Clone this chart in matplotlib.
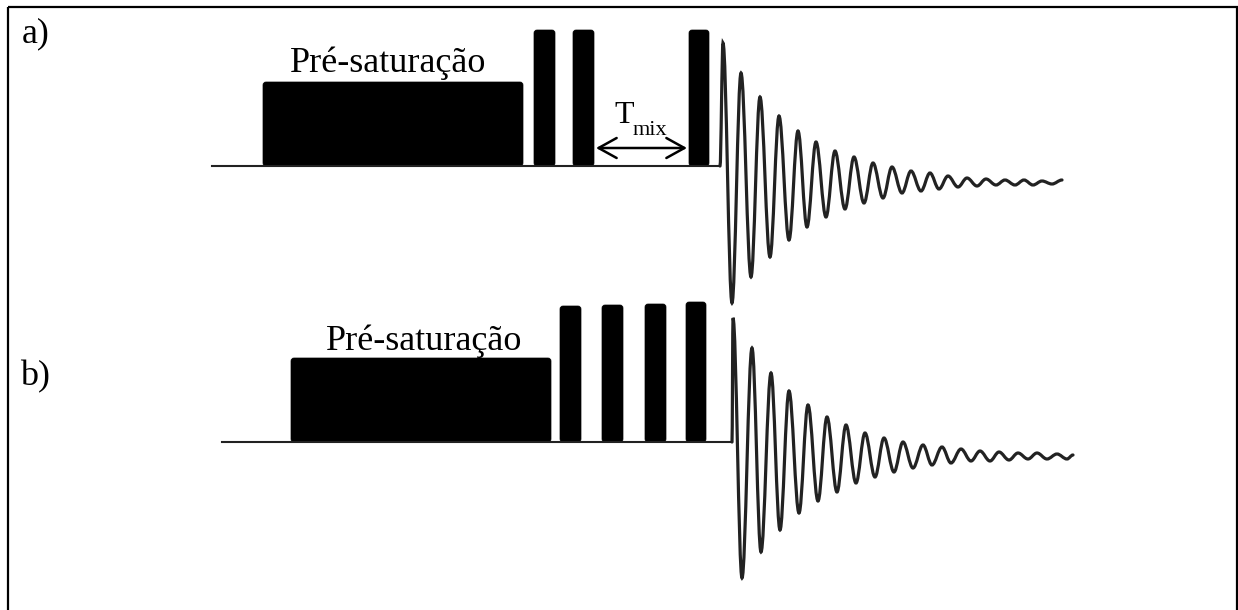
"""
Sequências de pulsos com pré-saturação (a: NOESY 1D, b: 4 pulsos)
"""

import matplotlib
matplotlib.use("Agg")
import matplotlib.pyplot as plt
from matplotlib.path import Path
from matplotlib.patches import FancyBboxPatch, PathPatch, Rectangle

plt.rcParams["font.family"] = ["Liberation Serif", "DejaVu Serif"]

# ---- dados (unidades do diagrama, eixo y para baixo) ----
baseline_a = 166
baseline_b = 442
line_a = (212, 720)
line_b = (222, 732)

# bloco de pré-saturação: início, fim, altura
presat_a = (263, 523, 84)
presat_b = (291, 551, 84)

# pulsos duros
pulse_a_start = [534, 573, 689]
pulse_a_end = [555, 594, 709]
pulse_a_height = [136, 136, 136]

pulse_b_start = [560, 602, 645, 686]
pulse_b_end = [581, 623, 666, 706]
pulse_b_height = [136, 137, 138, 140]

# T_mix
tmix_from = 596
tmix_to = 687
tmix_level = 18  # acima da linha de base

# FID: extremos lidos (amplitude acima da linha de base)
fid_a_peak_x = [723, 741, 760, 779, 798, 816, 835, 854, 873, 892, 911, 930,
                948, 967, 986, 1005, 1024, 1042, 1062]
fid_a_peak = [123, 93, 69, 50, 35, 24, 15, 9, 3, -1, -5, -7, -10, -12, -13,
              -14, -14, -15, -14]
fid_a_trough_x = [732, 751, 770, 789, 807, 826, 845, 864, 883, 902, 921, 939,
                  958, 977, 996, 1015, 1033, 1052]
fid_a_trough = [-137, -111, -91, -74, -61, -51, -43, -37, -32, -27, -25, -23,
                -21, -20, -19, -19, -19, -18]

fid_b_peak_x = [733, 752, 771, 789, 808, 827, 846, 865, 884, 903, 923, 942,
                961, 980, 999, 1018, 1037, 1057, 1073]
fid_b_peak = [124, 94, 69, 51, 37, 25, 17, 9, 4, 0, -3, -5, -7, -9, -10,
              -11, -11, -12, -13]
fid_b_trough_x = [742, 761, 780, 799, 818, 837, 856, 875, 894, 913, 932, 951,
                  971, 990, 1009, 1028, 1047, 1067]
fid_b_trough = [-136, -110, -88, -71, -59, -50, -41, -35, -30, -26, -23, -21,
                -19, -19, -18, -17, -17, -17]

W, H = 1238, 610


def draw_block(ax, x0, x1, base, height):
    box = FancyBboxPatch((x0, base - height), x1 - x0, height,
                         boxstyle="round,pad=0,rounding_size=3",
                         facecolor="black", edgecolor="black", lw=0.5)
    ax.add_patch(box)


def draw_fid(ax, start_x, base, peak_x, peak, trough_x, trough):
    # junta picos e vales em ordem de x
    pts = [(start_x, 0)]
    pts += sorted(list(zip(peak_x, peak)) + list(zip(trough_x, trough)))
    verts = [(pts[0][0], base - pts[0][1])]
    codes = [Path.MOVETO]
    k = 0.36
    for (x0, a0), (x1, a1) in zip(pts[:-1], pts[1:]):
        dx = x1 - x0
        verts += [(x0 + k * dx, base - a0), (x1 - k * dx, base - a1),
                  (x1, base - a1)]
        codes += [Path.CURVE4] * 3
    ax.add_patch(PathPatch(Path(verts, codes), facecolor="none",
                           edgecolor="#222222", lw=2.3, capstyle="round"))


fig = plt.figure(figsize=(W / 100, H / 100), dpi=100)
ax = fig.add_axes([0, 0, 1, 1])
ax.set_xlim(0, W)
ax.set_ylim(H, 0)
ax.axis("off")

# moldura
ax.add_patch(Rectangle((8, 7), 1229, 640, facecolor="none",
                       edgecolor="black", lw=1.6))

# ---- a) ----
ax.plot(line_a, [baseline_a, baseline_a], color="#222222", lw=1.5)
draw_block(ax, presat_a[0], presat_a[1], baseline_a, presat_a[2])
for x0, x1, h in zip(pulse_a_start, pulse_a_end, pulse_a_height):
    draw_block(ax, x0, x1, baseline_a, h)
ax.annotate("", xy=(tmix_to, baseline_a - tmix_level),
            xytext=(tmix_from, baseline_a - tmix_level),
            arrowprops=dict(arrowstyle="<->,head_length=1.3,head_width=0.72",
                            color="black", lw=1.8, shrinkA=0, shrinkB=0))
ax.text(614, 123, "T", fontsize=23, ha="left", va="baseline")
ax.text(633, 135, "mix", fontsize=16, ha="left", va="baseline")
ax.text(290, 72, "Pré-saturação", fontsize=26, ha="left", va="baseline")
ax.text(22, 42, "a)", fontsize=26, ha="left", va="baseline")
draw_fid(ax, line_a[1], baseline_a, fid_a_peak_x, fid_a_peak,
         fid_a_trough_x, fid_a_trough)

# ---- b) ----
ax.plot(line_b, [baseline_b, baseline_b], color="#222222", lw=1.5)
draw_block(ax, presat_b[0], presat_b[1], baseline_b, presat_b[2])
for x0, x1, h in zip(pulse_b_start, pulse_b_end, pulse_b_height):
    draw_block(ax, x0, x1, baseline_b, h)
ax.text(326, 350, "Pré-saturação", fontsize=26, ha="left", va="baseline")
ax.text(20, 385, "b)", fontsize=26, ha="left", va="baseline")
draw_fid(ax, line_b[1], baseline_b, fid_b_peak_x, fid_b_peak,
         fid_b_trough_x, fid_b_trough)

fig.savefig("out.png", dpi=100)
